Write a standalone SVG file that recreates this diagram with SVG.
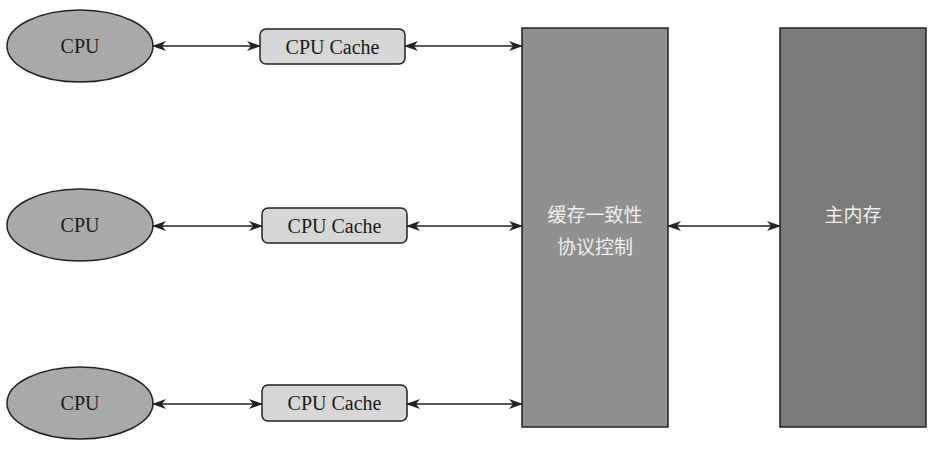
<svg xmlns="http://www.w3.org/2000/svg" width="942" height="449" viewBox="0 0 942 449">
<style>
.cpu{fill:#a9a9a9;stroke:#222;stroke-width:1.5}
.cache{fill:#d6d6d6;stroke:#222;stroke-width:1.5}
.ctrl{fill:#8f8f8f;stroke:#222;stroke-width:1.5}
.mem{fill:#7b7b7b;stroke:#222;stroke-width:1.5}
.en{font-family:"Liberation Serif","Times New Roman",serif;font-size:20px;fill:#1a1a1a;text-anchor:middle;dominant-baseline:central}
.cn{font-family:"Noto Sans CJK SC","Noto Sans",sans-serif;font-size:19px;fill:#efefef;text-anchor:middle;dominant-baseline:central}
.conn{stroke:#222;stroke-width:1.5;fill:none;marker-start:url(#ah);marker-end:url(#ah)}
</style>
<defs>
<marker id="ah" markerUnits="userSpaceOnUse" markerWidth="14" markerHeight="10" refX="13" refY="5" orient="auto-start-reverse" viewBox="0 0 14 10">
<path d="M0,0 L14,5 L0,10 L4,5 z" fill="#222"/>
</marker>
</defs>
<rect width="942" height="449" fill="#ffffff"/>
<g id="cpu1"><ellipse class="cpu" cx="80" cy="46" rx="73" ry="36"/><text class="en" x="80" y="46">CPU</text></g>
<g id="cpu2"><ellipse class="cpu" cx="80" cy="225" rx="73" ry="36"/><text class="en" x="80" y="225">CPU</text></g>
<g id="cpu3"><ellipse class="cpu" cx="80" cy="403" rx="73" ry="36"/><text class="en" x="80" y="403">CPU</text></g>
<g id="cache1"><rect class="cache" x="260" y="29" width="145" height="35" rx="6"/><text class="en" x="332.5" y="46.5">CPU Cache</text></g>
<g id="cache2"><rect class="cache" x="262" y="208" width="145" height="35" rx="6"/><text class="en" x="334.5" y="225.5">CPU Cache</text></g>
<g id="cache3"><rect class="cache" x="262" y="385" width="145" height="36" rx="6"/><text class="en" x="334.5" y="403">CPU Cache</text></g>
<g id="ctrl"><rect class="ctrl" x="522" y="28" width="146" height="399"/><text class="cn" x="595" y="213">缓存一致性</text><text class="cn" x="595" y="245">协议控制</text></g>
<g id="mem"><rect class="mem" x="780" y="28" width="146" height="399"/><text class="cn" x="853" y="213">主内存</text></g>
<g id="connectors">
<line class="conn" x1="153" y1="46" x2="260" y2="46"/>
<line class="conn" x1="405" y1="46" x2="522" y2="46"/>
<line class="conn" x1="153" y1="226" x2="262" y2="226"/>
<line class="conn" x1="407" y1="226" x2="522" y2="226"/>
<line class="conn" x1="153" y1="404" x2="262" y2="404"/>
<line class="conn" x1="407" y1="404" x2="522" y2="404"/>
<line class="conn" x1="668" y1="226" x2="780" y2="226"/>
</g>
</svg>
